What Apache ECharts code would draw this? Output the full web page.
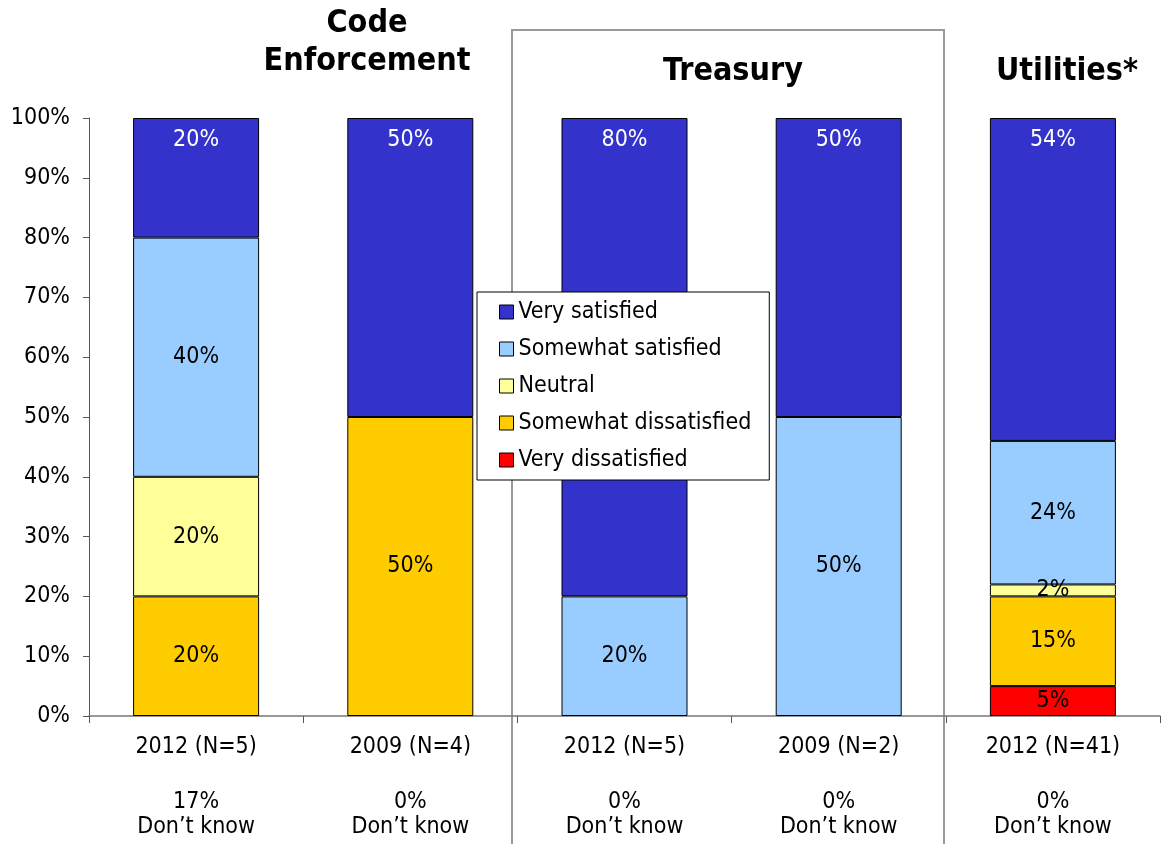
<!DOCTYPE html>
<html>
<head>
<meta charset="utf-8">
<script src="https://cdn.jsdelivr.net/npm/echarts@6/dist/echarts.min.js"></script>
<style>
  html, body { margin: 0; padding: 0; background: #fff; }
  #chart { width: 1162px; height: 844px; }
</style>
</head>
<body>
<div id="chart"></div>
<script>
// categories and the "don't know" note under each one
var categories = ["2012 (N=5)", "2009 (N=4)", "2012 (N=5)", "2009 (N=2)", "2012 (N=41)"];
var dontKnow = ["17%", "0%", "0%", "0%", "0%"];
var groupTitles = ["Code\nEnforcement", "Treasury", "Utilities*"];

// series values, bottom of the stack first
var veryDissatisfied = [0, 0, 0, 0, 5];
var somewhatDissatisfied = [20, 50, 0, 0, 15];
var neutral = [20, 0, 0, 0, 2];
var somewhatSatisfied = [40, 0, 20, 50, 24];
var verySatisfied = [20, 50, 80, 50, 54];

var yTicks = [0, 10, 20, 30, 40, 50, 60, 70, 80, 90, 100];

var FONT = "'DejaVu Sans Condensed', 'DejaVu Sans', sans-serif";

var chart = echarts.init(document.getElementById("chart"));

function makeSeries(name, data, color, labelColor, pos) {
  return {
    name: name,
    type: "bar",
    stack: "total",
    barWidth: 126,
    // empty segments are not drawn at all
    data: data.map(function (v) { return v > 0 ? v : "-"; }),
    itemStyle: { color: color, borderColor: "#000", borderWidth: 1 },
    label: {
      show: true,
      position: pos || "inside",
      distance: 11,
      color: labelColor,
      fontFamily: FONT,
      fontSize: 23,
      formatter: "{c}%"
    },
    emphasis: { disabled: true },
    animation: false
  };
}

chart.setOption({
  animation: false,
  title: [
    { text: groupTitles[0], left: 362, top: 0, textAlign: "center" },
    { text: groupTitles[1], left: 728, top: 48, textAlign: "center" },
    { text: groupTitles[2], left: 1062, top: 48, textAlign: "center" }
  ].map(function (t) {
    t.textStyle = { fontFamily: FONT, fontSize: 32, fontWeight: "bold", color: "#000", lineHeight: 38 };
    return t;
  }),
  grid: { left: 89, right: 2, top: 118, bottom: 128 },
  legend: {
    orient: "vertical",
    left: 477,
    top: 292,
    padding: [8, 18, 8, 22],
    itemGap: 13,
    itemWidth: 14,
    itemHeight: 14,
    icon: "rect",
    backgroundColor: "#fff",
    borderColor: "#000",
    borderWidth: 1,
    borderRadius: 0,
    data: ["Very satisfied", "Somewhat satisfied", "Neutral", "Somewhat dissatisfied", "Very dissatisfied"],
    textStyle: { fontFamily: FONT, fontSize: 23, color: "#000", lineHeight: 24 },
    itemStyle: { borderColor: "#000", borderWidth: 1 },
    selectedMode: false
  },
  xAxis: [
    {
      type: "category",
      data: categories,
      axisLine: { lineStyle: { color: "#777", width: 1.5 } },
      axisTick: { show: true, length: 7, lineStyle: { color: "#555" } },
      axisLabel: { margin: 18, fontFamily: FONT, fontSize: 23, color: "#000", lineHeight: 26, interval: 0 }
    },
    {
      type: "category",
      position: "bottom",
      offset: 63,
      data: dontKnow.map(function (d) { return d + "\nDon\u2019t know"; }),
      axisLine: { show: false },
      axisTick: { show: false },
      axisLabel: { margin: 11, fontFamily: FONT, fontSize: 23, color: "#000", lineHeight: 25, interval: 0 }
    }
  ],
  yAxis: {
    type: "value",
    min: yTicks[0],
    max: yTicks[yTicks.length - 1],
    interval: 10,
    axisLine: { show: true, lineStyle: { color: "#555", width: 1 } },
    axisTick: { show: true, length: 6, lineStyle: { color: "#555" } },
    splitLine: { show: false },
    axisLabel: { margin: 19, padding: [5, 0, 0, 0], fontFamily: FONT, fontSize: 23, color: "#000", formatter: "{value}%" }
  },
  series: [
    makeSeries("Very dissatisfied", veryDissatisfied, "#FF0000", "#000"),
    makeSeries("Somewhat dissatisfied", somewhatDissatisfied, "#FFCC00", "#000"),
    makeSeries("Neutral", neutral, "#FFFF99", "#000"),
    makeSeries("Somewhat satisfied", somewhatSatisfied, "#99CCFF", "#000"),
    makeSeries("Very satisfied", verySatisfied, "#3333CC", "#fff", "insideTop")
  ],
  graphic: [
    {
      type: "polyline",
      silent: true,
      z: 0,
      shape: { points: [[512, 844], [512, 30], [944, 30], [944, 844]] },
      style: { fill: null, stroke: "#999", lineWidth: 2 }
    }
  ]
});
</script>
</body>
</html>
